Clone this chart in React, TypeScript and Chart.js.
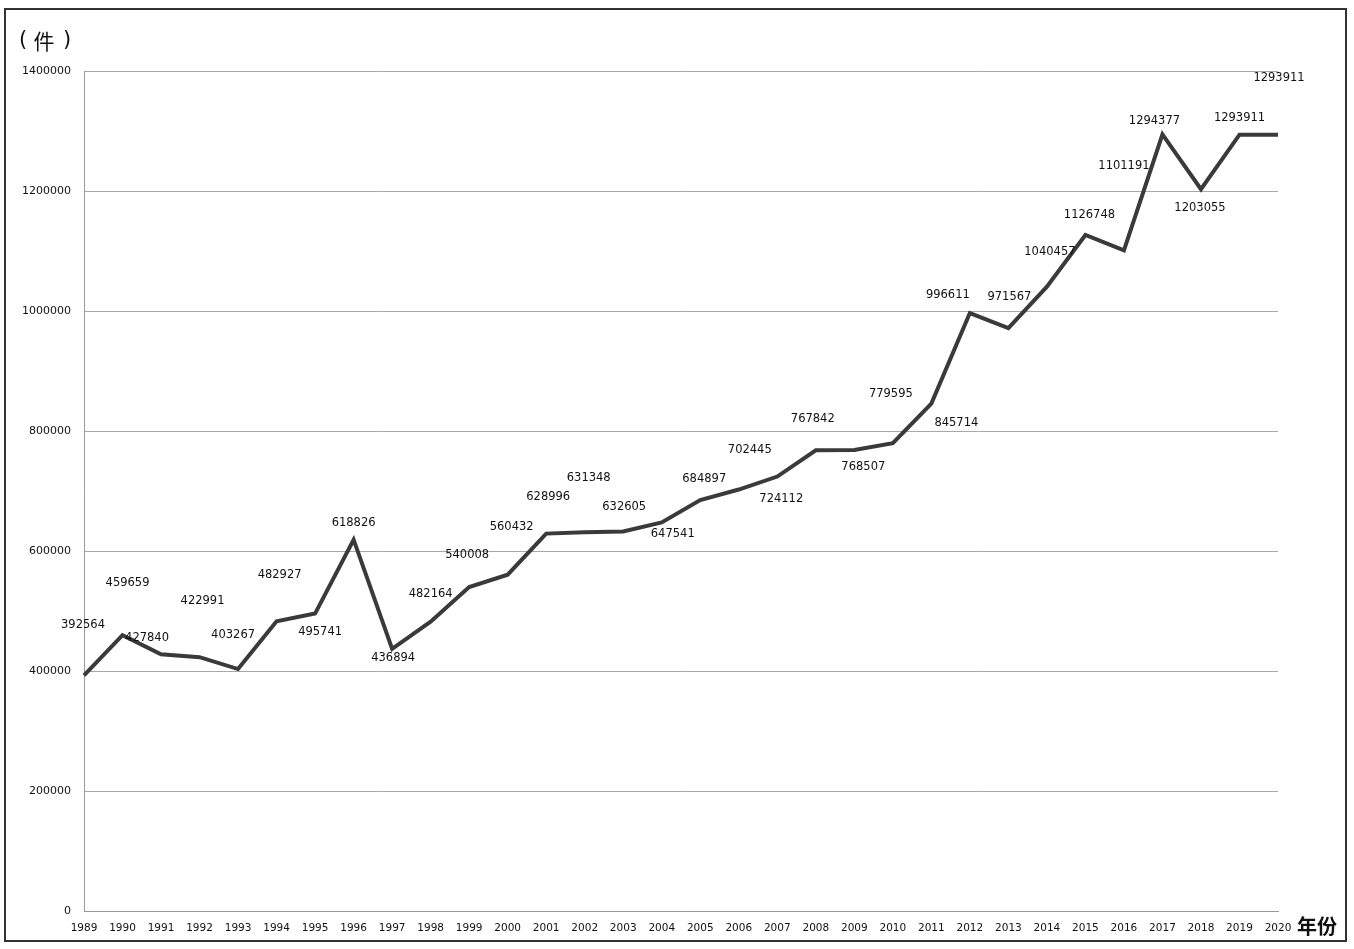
import React, { useEffect, useRef } from "react";
import { Chart, registerables } from "chart.js";

Chart.register(...registerables);

const years = [
  "1989", "1990", "1991", "1992", "1993", "1994", "1995", "1996", "1997", "1998",
  "1999", "2000", "2001", "2002", "2003", "2004", "2005", "2006", "2007", "2008",
  "2009", "2010", "2011", "2012", "2013", "2014", "2015", "2016", "2017", "2018",
  "2019", "2020",
];

const cases = [
  392564, 459659, 427840, 422991, 403267, 482927, 495741, 618826, 436894, 482164,
  540008, 560432, 628996, 631348, 632605, 647541, 684897, 702445, 724112, 767842,
  768507, 779595, 845714, 996611, 971567, 1040457, 1126748, 1101191, 1294377, 1203055,
  1293911, 1293911,
];

const yTicks = [0, 200000, 400000, 600000, 800000, 1000000, 1200000, 1400000];

// label placement offsets (pixels) relative to each point, as in the original
const labelDx = [-1, 5, -14, 3, -5, 3, 5, 0, 1, 0, -2, 4, 2, 4, 1, 11, 4, 11, 4, -3, 9, -2, 25, -22, 1, 3, 4, 0, -8, -1, 0, 1];
const labelDy = [-50, -52, -16, -56, -34, -46, 18, -17, 9, -28, -32, -48, -37, -54, -24, 12, -21, -40, 22, -31, 17, -49, 19, -18, -31, -35, -20, -84, -13, 19, -17, -57];

const TEXT = "#111111";
const FONT = "'DejaVu Sans', Verdana, sans-serif";

const decorPlugin = {
  id: "decor",
  afterDatasetsDraw(chart: any) {
    const ctx = chart.ctx;
    const meta = chart.getDatasetMeta(0);
    ctx.save();
    ctx.fillStyle = TEXT;
    ctx.font = `11.5px ${FONT}`;
    ctx.textAlign = "center";
    ctx.textBaseline = "middle";
    meta.data.forEach((pt: any, i: number) => {
      ctx.fillText(String(cases[i]), pt.x + labelDx[i], pt.y + labelDy[i]);
    });
    ctx.restore();
  },
  afterDraw(chart: any) {
    const ctx = chart.ctx;
    ctx.save();
    ctx.strokeStyle = "#333333";
    ctx.lineWidth = 2;
    ctx.strokeRect(5, 9, 1341, 932);
    ctx.fillStyle = "#111111";
    ctx.textAlign = "center";
    ctx.textBaseline = "middle";
    ctx.font = "21px 'DejaVu Sans'";
    ctx.fillText("(", 23, 41);
    ctx.fillText(")", 67, 41);
    ctx.font = "21px 'Noto Sans CJK SC'";
    ctx.fillText("件", 44, 41);
    ctx.font = "bold 20px 'Noto Sans CJK SC'";
    ctx.textAlign = "left";
    ctx.fillText("年份", 1297, 926);
    ctx.restore();
  },
};

export default function App() {
  const ref = useRef<HTMLCanvasElement | null>(null);

  useEffect(() => {
    if (!ref.current) return;
    const chart = new Chart(ref.current, {
      type: "line",
      data: {
        labels: years,
        datasets: [
          {
            data: cases,
            borderColor: "#3a3a3a",
            borderWidth: 4,
            pointRadius: 0,
            pointHoverRadius: 0,
            tension: 0,
            fill: false,
          },
        ],
      },
      options: {
        responsive: false,
        animation: false,
        events: [],
        layout: { padding: { left: 0, top: 71, right: 76, bottom: 0 } },
        plugins: {
          legend: { display: false },
          tooltip: { enabled: false },
          title: { display: false },
        },
        scales: {
          x: {
            offset: false,
            grid: { display: false, drawTicks: false },
            border: { display: true, color: "#9a9a9a", width: 1 },
            ticks: {
              color: TEXT,
              font: { family: FONT, size: 10.5 },
              padding: 11,
              maxRotation: 0,
              autoSkip: false,
            },
            afterFit(scale: any) {
              scale.height = 38;
            },
          },
          y: {
            min: 0,
            max: 1400000,
            afterBuildTicks(scale: any) {
              scale.ticks = yTicks.map((v) => ({ value: v }));
            },
            grid: { color: "#a8a8a8", lineWidth: 1, drawTicks: false },
            border: { display: true, color: "#9a9a9a", width: 1 },
            ticks: {
              color: TEXT,
              font: { family: FONT, size: 11 },
              padding: 13,
              callback: (v: any) => String(v),
            },
            afterFit(scale: any) {
              scale.width = 84;
            },
          },
        },
      },
      plugins: [decorPlugin],
    });
    return () => chart.destroy();
  }, []);

  return (
    <div style={{ position: "fixed", left: 0, top: 0, width: 1354, height: 949, background: "#fff" }}>
      <canvas ref={ref} width={1354} height={949} style={{ display: "block" }} />
    </div>
  );
}
